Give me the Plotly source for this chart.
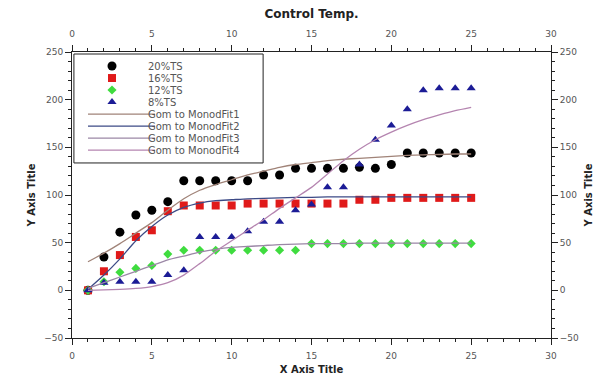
import plotly.graph_objects as go

# ---------------- data ----------------
x_vals = list(range(1, 26))
ts20 = [0, 35, 61, 79, 84, 93, 115, 115, 115, 115, 115, 121, 121, 128, 128, 128, 128, 129, 128, 132, 144, 144, 144, 144, 144]
ts16 = [0, 20, 37, 56, 63, 83, 89, 89, 89, 89, 91, 91, 91, 91, 91, 91, 91, 95, 95, 97, 97, 97, 97, 97, 97]
ts12 = [0, 9, 19, 23, 26, 38, 42, 42, 42, 42, 42, 42, 42, 42, 49, 49, 49, 49, 49, 49, 49, 49, 49, 49, 49]
ts8 = [0, 8, 9, 9, 9, 16, 21, 56, 56, 56, 62, 72, 72, 84, 90, 108, 108, 132, 158, 173, 190, 210, 212, 212, 212]

fit1 = [30, 39, 49, 60, 71, 84, 96, 105, 111, 116, 121, 125, 129, 132, 134, 136, 137.5, 138.5, 139.5, 140.5, 141.5, 142, 142.5, 143, 143]
fit2 = [1, 16, 33, 52, 67, 79, 87, 91.5, 94, 95, 96, 96.5, 97, 97.5, 97.5, 98, 98, 98, 98, 98, 98, 98, 98, 98, 98]
fit3 = [2, 8, 14, 20, 26, 32, 36, 40, 43, 45, 46, 47, 48, 48.5, 49, 49, 49, 49.5, 49.5, 49.5, 49.5, 49.5, 49.5, 49.5, 49.5]
fit4 = [0, 0.5, 1, 2, 4, 8, 16, 28, 41, 52, 63, 74, 86, 97, 108, 122, 136, 148, 158, 166, 173, 179, 184, 188.5, 192]

series_names = ["20%TS", "16%TS", "12%TS", "8%TS"]
fit_names = ["Gom to MonodFit1", "Gom to MonodFit2", "Gom to MonodFit3", "Gom to MonodFit4"]

x_ticks = [0, 5, 10, 15, 20, 25, 30]
y_ticks = [-50, 0, 50, 100, 150, 200, 250]

# ---------------- styles ----------------
FONT = "DejaVu Sans"
marker_styles = [
    dict(symbol="circle", size=9, color="#000000"),
    dict(symbol="square", size=8, color="#e01a1a"),
    dict(symbol="diamond", size=7, color="#3fdc3f"),
    dict(symbol="triangle-up", size=8, color="#1c1c96"),
]
fit_colors = ["#a08378", "#3c4a86", "#9b87a6", "#b585b0"]

fig = go.Figure()

for name, ys, st in zip(series_names, [ts20, ts16, ts12, ts8], marker_styles):
    fig.add_trace(go.Scatter(x=x_vals, y=ys, mode="markers", name=name,
                             marker=dict(symbol=st["symbol"], size=st["size"], color=st["color"],
                                         line=dict(width=0)),
                             showlegend=False))

for name, ys, c in zip(fit_names, [fit1, fit2, fit3, fit4], fit_colors):
    fig.add_trace(go.Scatter(x=x_vals, y=ys, mode="lines", name=name,
                             line=dict(color=c, width=1.3, shape="spline", smoothing=0.6),
                             showlegend=False))

# empty trace to activate the top/right axes
fig.add_trace(go.Scatter(x=[], y=[], xaxis="x2", yaxis="y2", showlegend=False))

# ---------------- custom legend (drawn inside plot area) ----------------
leg_left, leg_right, leg_top, leg_bottom = 0.004, 0.399, 0.993, 0.612
marker_x = 0.0835
row_y = [0.951, 0.909, 0.867, 0.825, 0.783, 0.741, 0.699, 0.657]
text_x = 0.1545
fig.add_shape(type="rect", xref="paper", yref="paper", x0=leg_left, x1=leg_right,
              y0=leg_bottom, y1=leg_top, line=dict(color="#222", width=1), layer="above")
for i, st in enumerate(marker_styles):
    fig.add_trace(go.Scatter(x=[marker_x], y=[row_y[i]], xaxis="x3", yaxis="y3", mode="markers",
                             marker=dict(symbol=st["symbol"], size=st["size"], color=st["color"]),
                             showlegend=False, hoverinfo="skip"))
for i, c in enumerate(fit_colors):
    fig.add_shape(type="line", xref="paper", yref="paper", x0=0.0334, x1=0.1733,
                  y0=row_y[4 + i], y1=row_y[4 + i], line=dict(color=c, width=1.3), layer="above")
for i, t in enumerate(series_names + fit_names):
    fig.add_annotation(xref="paper", yref="paper", x=text_x, y=row_y[i], text=t, showarrow=False,
                       xanchor="left", yanchor="middle", font=dict(family=FONT, size=10, color="#555"))

# ---------------- axes ----------------
tickfont = dict(family=FONT, size=9, color="#555")
title_font = dict(family=FONT, size=10, color="#222", weight="bold")
common_x = dict(range=[0, 30], tickvals=x_ticks, ticks="outside", ticklen=6, tickcolor="#222",
                showline=True, linecolor="#222", linewidth=1, showgrid=False, zeroline=False,
                automargin=False,
                tickfont=tickfont, minor=dict(dtick=1, ticks="outside", ticklen=3, tickcolor="#222"))
common_y = dict(range=[-50, 250], tickvals=y_ticks, ticks="outside", ticklen=6, tickcolor="#222",
                showline=True, linecolor="#222", linewidth=1, showgrid=False, zeroline=False,
                automargin=False,
                tickfont=tickfont, minor=dict(dtick=10, ticks="outside", ticklen=3, tickcolor="#222"))

fig.update_layout(
    width=611, height=377,
    margin=dict(l=72, r=60, t=52, b=39),
    paper_bgcolor="white", plot_bgcolor="white",
    xaxis=dict(**common_x, ticklabelstandoff=3,
               title=dict(text="X Axis Title", font=title_font, standoff=6)),
    yaxis=dict(**common_y, title=dict(text="Y Axis Title", font=title_font, standoff=6)),
    xaxis2=dict(**common_x, overlaying="x", side="top", anchor="y", ticklabelstandoff=4,
                title=dict(text="Control Temp.", font=dict(family=FONT, size=12, color="#222", weight="bold"),
                           standoff=8)),
    yaxis2=dict(**common_y, overlaying="y", side="right", anchor="x",
                title=dict(text="Y Axis Title", font=title_font, standoff=6)),
    xaxis3=dict(overlaying="x", range=[0, 1], visible=False),
    yaxis3=dict(overlaying="y", range=[0, 1], visible=False),
    showlegend=False,
)

fig.write_html("out.html")
